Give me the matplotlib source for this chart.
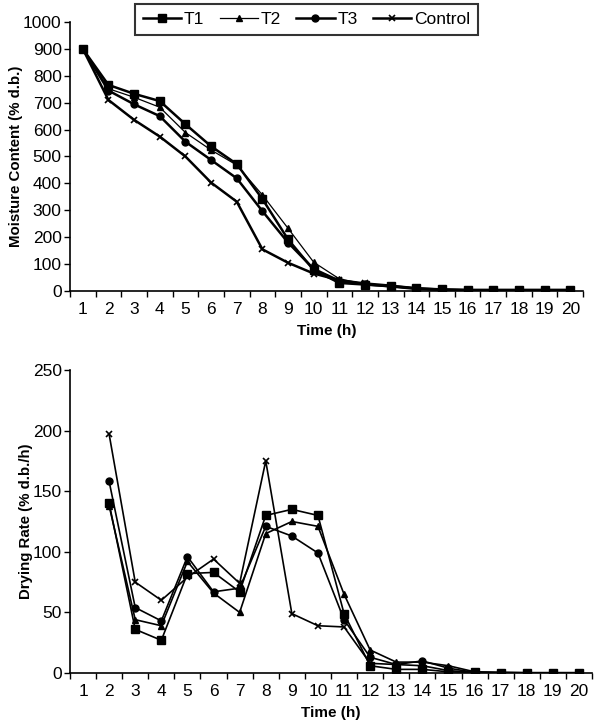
import numpy as np
import matplotlib.pyplot as plt
from matplotlib.ticker import FixedLocator, NullFormatter

plt.rcParams['font.family'] = ['Liberation Sans', 'DejaVu Sans']

hours = np.arange(1, 21)

# moisture content (% d.b.)
mc_t1 = [900, 766, 733, 706, 620, 538, 472, 342, 192, 78, 30, 24, 18, 10, 6, 4, 4, 4, 4, 4]
mc_t2 = [900, 752, 720, 683, 589, 524, 468, 357, 233, 107, 45, 26, 17, 10, 5, 4, 3, 3, 3, 3]
mc_t3 = [900, 745, 694, 650, 555, 487, 419, 297, 180, 82, 38, 25, 17, 8, 4, 3, 3, 3, 3, 3]
mc_ctrl = [900, 710, 636, 574, 500, 403, 332, 155, 105, 65, 40, 28, 20, 10, 5, 3, 3, 3, 3, 3]

# drying rate (% d.b./h), starts at hour 2
dr_hours = np.arange(2, 21)
dr_t1 = [140, 36, 27, 82, 83, 67, 130, 135, 130, 49, 6, 3, 3, 1, 0.5, 0.3, 0.2, 0.2, 0.2]
dr_t2 = [138, 44, 39, 92, 66, 50, 115, 125, 121, 65, 19, 9, 9, 6, 1, 0.5, 0.2, 0.2, 0.2]
dr_t3 = [158, 54, 43, 96, 67, 70, 121, 113, 99, 44, 13, 7, 10, 4, 0.5, 0.3, 0.2, 0.2, 0.2]
dr_ctrl = [197, 75, 60, 79, 94, 74, 175, 49, 39, 38, 8, 7, 6, 2, 0.5, 0.3, 0.2, 0.2, 0.2]

fig = plt.figure(figsize=(5.95, 7.25), dpi=100)
ax1 = fig.add_axes([0.1176, 0.5986, 0.8624, 0.3711])
ax2 = fig.add_axes([0.1176, 0.0717, 0.8774, 0.4180])


def style_axis(ax, ymax, ystep, ylabel):
    ax.set_xlim(0.5, 20.5)
    ax.set_ylim(0, ymax)
    ax.set_yticks(np.arange(0, ymax + 1, ystep))
    ax.xaxis.set_major_locator(FixedLocator(np.arange(0.5, 21, 1)))
    ax.xaxis.set_major_formatter(NullFormatter())
    ax.xaxis.set_minor_locator(FixedLocator(hours))
    ax.set_xticklabels([str(h) for h in hours], minor=True)
    ax.tick_params(axis='x', which='major', direction='out', length=4, width=1)
    ax.tick_params(axis='x', which='minor', length=0, pad=8, labelsize=12.5)
    ax.tick_params(axis='y', direction='out', length=4, width=1, labelsize=12.5, pad=2)
    for s in ['top', 'right']:
        ax.spines[s].set_visible(False)
    for s in ['left', 'bottom']:
        ax.spines[s].set_linewidth(1.2)
    ax.set_xlabel('Time (h)', fontsize=11, fontweight='bold', labelpad=5)
    ax.set_ylabel(ylabel, fontsize=10.8, fontweight='bold', labelpad=0)


h1, = ax1.plot(hours, mc_t1, color='black', lw=1.8, marker='s', ms=6, label='T1')
h2, = ax1.plot(hours, mc_t2, color='black', lw=0.9, marker='^', ms=5, label='T2')
h3, = ax1.plot(hours, mc_t3, color='black', lw=1.8, marker='o', ms=5, label='T3')
h4, = ax1.plot(hours, mc_ctrl, color='black', lw=1.8, marker='x', ms=5, mew=1.2, label='Control')
style_axis(ax1, 1000, 100, 'Moisture Content (% d.b.)')

ax2.plot(dr_hours, dr_t1, color='black', lw=1.2, marker='s', ms=6)
ax2.plot(dr_hours, dr_t2, color='black', lw=1.2, marker='^', ms=5)
ax2.plot(dr_hours, dr_t3, color='black', lw=1.2, marker='o', ms=5)
ax2.plot(dr_hours, dr_ctrl, color='black', lw=1.2, marker='x', ms=5, mew=1.2)
style_axis(ax2, 250, 50, 'Drying Rate (% d.b./h)')

leg = fig.legend(handles=[h1, h2, h3, h4], ncol=4, loc='upper center',
                 bbox_to_anchor=(0.515, 1.006), fontsize=12.5, frameon=True,
                 fancybox=False, edgecolor='black', handlelength=2.2,
                 columnspacing=0.9, handletextpad=0.15, borderpad=0.45)
leg.get_frame().set_linewidth(1.5)

fig.savefig('out.png', dpi=100)
